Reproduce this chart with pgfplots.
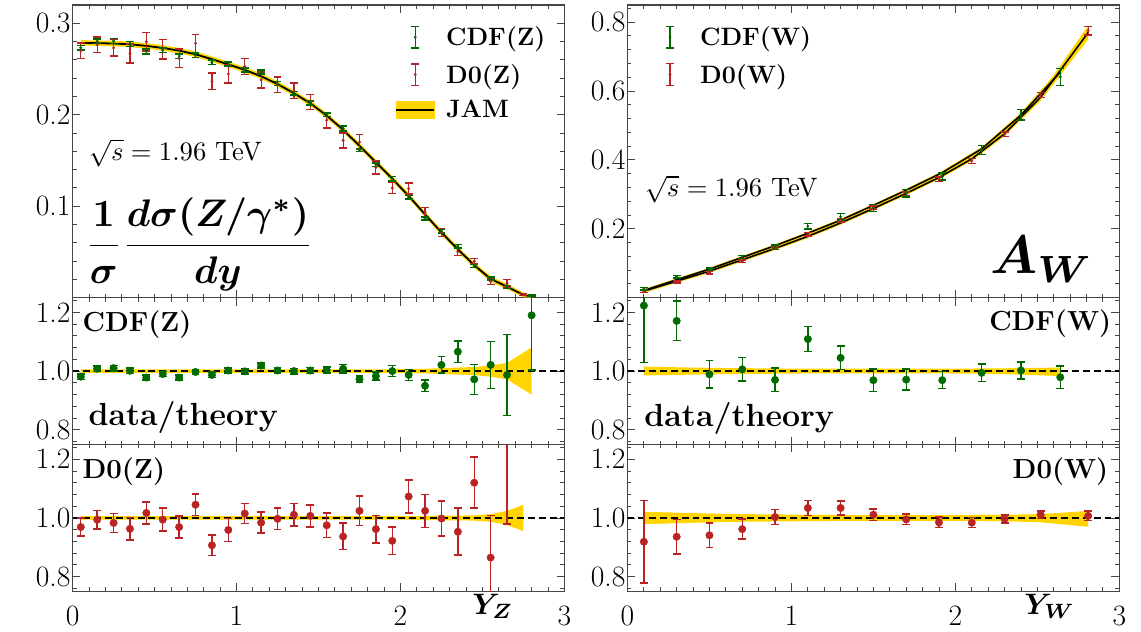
\documentclass[border=0pt]{standalone}
\usepackage{pgfplots}
\usepackage{pgfplotstable}
\pgfplotsset{compat=1.18}
\usepgfplotslibrary{fillbetween}

\definecolor{cdfgreen}{RGB}{0,105,0}
\definecolor{dzred}{RGB}{185,35,35}
\definecolor{jamgold}{RGB}{255,212,0}
\definecolor{framegray}{RGB}{70,70,70}

% ---------------- Z rapidity: JAM theory (central, band) ----------------
\pgfplotstableread{
x t lo hi
0.05 0.2785 0.2755 0.2815
0.15 0.2782 0.2752 0.2812
0.25 0.2778 0.2748 0.2808
0.35 0.2770 0.2740 0.2800
0.45 0.2752 0.2722 0.2782
0.55 0.2730 0.2700 0.2760
0.65 0.2700 0.2670 0.2730
0.75 0.2660 0.2630 0.2690
0.85 0.2607 0.2577 0.2637
0.95 0.2550 0.2520 0.2580
1.05 0.2490 0.2460 0.2520
1.15 0.2420 0.2390 0.2450
1.25 0.2335 0.2305 0.2365
1.35 0.2235 0.2205 0.2265
1.45 0.2125 0.2095 0.2155
1.55 0.1990 0.1960 0.2020
1.65 0.1835 0.1805 0.1865
1.75 0.1660 0.1630 0.1690
1.85 0.1480 0.1450 0.1510
1.95 0.1300 0.1270 0.1330
2.05 0.1112 0.1082 0.1142
2.15 0.0910 0.0880 0.0940
2.25 0.0712 0.0682 0.0742
2.35 0.0528 0.0498 0.0558
2.45 0.0355 0.0325 0.0385
2.55 0.0205 0.0175 0.0235
2.65 0.0120 0.0090 0.0150
2.75 0.0030 0.0005 0.0055
2.80 0.0012 0.0000 0.0030
}\zjam

% CDF(Z): normalised cross section
\pgfplotstableread{
x y e
0.05 0.2732 0.0025
0.15 0.2804 0.0025
0.25 0.2806 0.0025
0.35 0.2773 0.0025
0.45 0.2691 0.0025
0.55 0.2703 0.0025
0.65 0.2641 0.0024
0.75 0.2652 0.0024
0.85 0.2573 0.0024
0.95 0.2555 0.0023
1.05 0.2488 0.0023
1.15 0.2466 0.0022
1.25 0.2340 0.0022
1.35 0.2235 0.0021
1.45 0.2129 0.0021
1.55 0.1998 0.0020
1.65 0.1850 0.0026
1.75 0.1614 0.0018
1.85 0.1455 0.0019
1.95 0.1300 0.0025
2.05 0.1098 0.0021
2.15 0.0865 0.0018
2.25 0.0727 0.0020
2.35 0.0563 0.0020
2.45 0.0345 0.0018
2.55 0.0209 0.0016
2.65 0.0118 0.0016
2.80 0.0022 0.0006
}\zcdf

% D0(Z): normalised cross section
\pgfplotstableread{
x y e
0.05 0.2699 0.0086
0.15 0.2765 0.0086
0.25 0.2731 0.0089
0.35 0.2668 0.0105
0.45 0.2799 0.0102
0.55 0.2714 0.0106
0.65 0.2616 0.0100
0.75 0.2780 0.0098
0.85 0.2365 0.0091
0.95 0.2445 0.0099
1.05 0.2527 0.0085
1.15 0.2381 0.0087
1.25 0.2328 0.0086
1.35 0.2260 0.0085
1.45 0.2140 0.0081
1.55 0.1940 0.0084
1.65 0.1719 0.0083
1.75 0.1700 0.0083
1.85 0.1424 0.0070
1.95 0.1199 0.0061
2.05 0.1193 0.0062
2.15 0.0932 0.0051
2.25 0.0711 0.0042
2.35 0.0503 0.0042
2.45 0.0398 0.0031
2.55 0.0176 0.0030
2.65 0.0158 0.0040
2.75 0.0035 0.0012
}\zdzero

% data/theory, CDF(Z)
\pgfplotstableread{
x r e
0.05 0.981 0.009
0.15 1.008 0.009
0.25 1.010 0.009
0.35 1.001 0.009
0.45 0.978 0.009
0.55 0.990 0.009
0.65 0.978 0.009
0.75 0.997 0.009
0.85 0.987 0.009
0.95 1.002 0.009
1.05 0.999 0.009
1.15 1.019 0.009
1.25 1.002 0.009
1.35 1.000 0.009
1.45 1.002 0.010
1.55 1.004 0.010
1.65 1.008 0.014
1.75 0.972 0.011
1.85 0.983 0.013
1.95 1.000 0.019
2.05 0.987 0.019
2.15 0.950 0.020
2.25 1.021 0.028
2.35 1.066 0.037
2.45 0.972 0.051
2.55 1.021 0.080
2.65 0.987 0.138
2.80 1.190 0.186
}\zcdfr

\pgfplotstableread{
x lo hi
0.05 0.994 1.006
0.55 0.994 1.006
1.05 0.994 1.006
1.55 0.994 1.006
1.95 0.994 1.006
2.05 0.993 1.007
2.15 0.992 1.008
2.25 0.990 1.010
2.35 0.988 1.012
2.45 0.986 1.014
2.55 0.981 1.019
2.65 0.972 1.028
2.80 0.920 1.080
}\zcdfband

% data/theory, D0(Z)
\pgfplotstableread{
x r e
0.05 0.969 0.031
0.15 0.994 0.031
0.25 0.983 0.032
0.35 0.963 0.038
0.45 1.017 0.037
0.55 0.994 0.039
0.65 0.969 0.037
0.75 1.045 0.037
0.85 0.907 0.035
0.95 0.959 0.039
1.05 1.015 0.034
1.15 0.984 0.036
1.25 0.997 0.037
1.35 1.011 0.038
1.45 1.007 0.038
1.55 0.975 0.042
1.65 0.937 0.045
1.75 1.024 0.050
1.85 0.962 0.047
1.95 0.922 0.047
2.05 1.073 0.056
2.15 1.024 0.056
2.25 0.998 0.059
2.35 0.953 0.080
2.45 1.120 0.087
2.55 0.865 0.143
2.65 1.320 0.340
}\zdzeror

\pgfplotstableread{
x lo hi
0.05 0.994 1.006
0.55 0.994 1.006
1.05 0.994 1.006
1.55 0.994 1.006
2.05 0.994 1.006
2.15 0.993 1.007
2.25 0.992 1.008
2.35 0.992 1.008
2.45 0.991 1.009
2.55 0.987 1.013
2.65 0.976 1.024
2.75 0.955 1.045
}\zdzeroband

% ---------------- W asymmetry ----------------
\pgfplotstableread{
x t lo hi
0.10 0.021 0.017 0.025
0.30 0.052 0.048 0.056
0.50 0.083 0.079 0.087
0.70 0.117 0.113 0.121
0.90 0.151 0.147 0.155
1.10 0.187 0.183 0.191
1.30 0.225 0.221 0.229
1.50 0.268 0.264 0.272
1.70 0.312 0.308 0.316
1.92 0.363 0.358 0.368
2.16 0.432 0.427 0.437
2.40 0.530 0.523 0.537
2.64 0.655 0.643 0.667
}\wjamcdf

\pgfplotstableread{
x t lo hi
0.10 0.019 0.014 0.024
0.30 0.048 0.043 0.053
0.50 0.077 0.072 0.082
0.70 0.110 0.105 0.115
0.90 0.143 0.138 0.148
1.10 0.178 0.173 0.183
1.30 0.217 0.212 0.222
1.50 0.259 0.254 0.264
1.70 0.303 0.298 0.308
1.90 0.349 0.344 0.354
2.10 0.403 0.397 0.409
2.30 0.476 0.469 0.483
2.52 0.582 0.572 0.592
2.81 0.770 0.750 0.790
}\wjamdzero

\pgfplotstableread{
x y e
0.10 0.0257 0.0041
0.30 0.0609 0.0035
0.50 0.0821 0.0039
0.70 0.1177 0.0047
0.90 0.1465 0.0060
1.10 0.2074 0.0080
1.30 0.2351 0.0090
1.50 0.2597 0.0102
1.70 0.3030 0.0112
1.92 0.3517 0.0105
2.16 0.4294 0.0130
2.40 0.5311 0.0154
2.64 0.6412 0.0249
}\wcdf

\pgfplotstableread{
x y e
0.10 0.0175 0.0027
0.30 0.0449 0.0028
0.50 0.0725 0.0032
0.70 0.1058 0.0037
0.90 0.1434 0.0037
1.10 0.1841 0.0045
1.30 0.2244 0.0052
1.50 0.2618 0.0049
1.70 0.3015 0.0055
1.90 0.3438 0.0063
2.10 0.3966 0.0069
2.30 0.4746 0.0067
2.52 0.5884 0.0076
2.81 0.7754 0.0123
}\wdzero

\pgfplotstableread{
x r e
0.10 1.223 0.194
0.30 1.171 0.067
0.50 0.989 0.047
0.70 1.006 0.040
0.90 0.970 0.040
1.10 1.109 0.043
1.30 1.045 0.040
1.50 0.969 0.038
1.70 0.971 0.036
1.92 0.969 0.029
2.16 0.994 0.030
2.40 1.002 0.029
2.64 0.979 0.038
}\wcdfr

\pgfplotstableread{
x lo hi
0.10 0.985 1.015
0.30 0.987 1.013
0.50 0.989 1.011
0.70 0.990 1.010
0.90 0.991 1.009
1.10 0.992 1.008
1.30 0.992 1.008
1.50 0.992 1.008
1.70 0.992 1.008
1.92 0.992 1.008
2.16 0.991 1.009
2.40 0.988 1.010
2.64 0.983 1.012
}\wcdfband

\pgfplotstableread{
x r e
0.10 0.919 0.140
0.30 0.936 0.058
0.50 0.941 0.042
0.70 0.962 0.034
0.90 1.003 0.026
1.10 1.034 0.025
1.30 1.034 0.024
1.50 1.011 0.019
1.70 0.995 0.018
1.90 0.985 0.018
2.10 0.984 0.017
2.30 0.997 0.014
2.52 1.011 0.013
2.81 1.007 0.016
}\wdzeror

\pgfplotstableread{
x lo hi
0.10 0.979 1.021
0.30 0.982 1.018
0.50 0.985 1.015
0.70 0.987 1.013
0.90 0.988 1.012
1.10 0.989 1.011
1.30 0.990 1.010
1.50 0.990 1.010
1.70 0.990 1.010
1.90 0.990 1.010
2.10 0.990 1.010
2.30 0.989 1.011
2.52 0.985 1.013
2.81 0.970 1.024
}\wdzeroband

\newcommand{\tickfont}{\fontsize{30}{30}\selectfont}

\pgfplotsset{
  panel/.style={
    scale only axis, width=499pt,
    xmin=0, xmax=3,
    xtick={0,1,2,3},
    minor xtick={0,0.1,...,3},
    tick align=inside,
    major tick length=8pt, minor tick length=4pt,
    every tick/.style={framegray, line width=0.9pt},
    axis line style={framegray, line width=1.4pt},
    tick label style={font=\tickfont},
    yticklabel style={inner sep=0pt, xshift=-2pt},
    xticklabel style={inner sep=0pt, yshift=-15pt},
    xticklabels={},
  },
  ratio/.style={
    panel, height=149pt,
    ymin=0.75, ymax=1.25,
    ytick={0.8,1.0,1.2}, yticklabels={0.8,1.0,1.2},
    minor ytick={0.76,0.80,...,1.24},
  },
  bottomx/.style={xticklabels={0,1,2,3}},
  mainerr/.style={only marks, mark=*, mark size=1.3pt, #1,
    error bars/.cd, y dir=both, y explicit,
    error bar style={line width=1.2pt, #1},
    error mark options={rotate=90, mark size=4pt, line width=1.5pt, #1}},
  ratioerr/.style={only marks, mark=*, mark size=3.8pt, #1,
    error bars/.cd, y dir=both, y explicit,
    error bar style={line width=1.4pt, #1},
    error mark options={rotate=90, mark size=4pt, line width=1.6pt, #1}},
  unity/.style={black, line width=1.4pt, dash pattern=on 7pt off 4pt, forget plot},
  cdfleg/.style={legend image code/.code={
      \path[draw=none, fill=none] (0pt,-12pt) rectangle (39pt,12pt);
      \draw[cdfgreen, line width=1.3pt] (19.5pt,-11pt) -- (19.5pt,11pt);
      \draw[cdfgreen, line width=1.5pt] (15.5pt,-11pt) -- (23.5pt,-11pt);
      \draw[cdfgreen, line width=1.5pt] (15.5pt,11pt) -- (23.5pt,11pt);
      \fill[cdfgreen] (19.5pt,0pt) circle (1.3pt);}},
  dzeroleg/.style={legend image code/.code={
      \path[draw=none, fill=none] (0pt,-12pt) rectangle (39pt,12pt);
      \draw[dzred, line width=1.3pt] (19.5pt,-11pt) -- (19.5pt,11pt);
      \draw[dzred, line width=1.5pt] (15.5pt,-11pt) -- (23.5pt,-11pt);
      \draw[dzred, line width=1.5pt] (15.5pt,11pt) -- (23.5pt,11pt);
      \fill[dzred] (19.5pt,0pt) circle (1.3pt);}},
  jamleg/.style={legend image code/.code={
      \fill[jamgold] (0pt,-9pt) rectangle (39pt,9pt);
      \draw[black, line width=1.8pt] (0pt,0pt) -- (39pt,0pt);}},
  legstyle/.style={legend style={draw=none, fill=none, inner sep=0pt,
      font=\fontsize{25.5}{25.5}\selectfont\bfseries,
      row sep=14pt,
      nodes={inner sep=0pt},
      /tikz/every odd column/.append style={column sep=11pt},
      cells={anchor=west}}},
}

% bold formula labels, set once and placed as boxes
\newsavebox{\zlabelbox}
\newsavebox{\awlabelbox}
\newsavebox{\yzlabelbox}
\newsavebox{\ywlabelbox}
\newsavebox{\rootsbox}

\begin{document}
\sbox{\zlabelbox}{\boldmath$\displaystyle\frac{1}{\sigma}\frac{d\sigma(Z/\gamma^{\ast})}{dy}$\unboldmath}
\sbox{\awlabelbox}{\boldmath$A_W$\unboldmath}
\sbox{\yzlabelbox}{\boldmath$Y_Z$\unboldmath}
\sbox{\ywlabelbox}{\boldmath$Y_W$\unboldmath}
\sbox{\rootsbox}{$\sqrt{s}=1.96$ TeV}
\begin{tikzpicture}

% ===================== Z: normalised rapidity distribution =====================
\begin{axis}[panel, name=zmain, at={(57pt,339pt)}, anchor=south west, height=297pt,
  ymin=0, ymax=0.32,
  ytick={0,0.1,0.2,0.3}, yticklabels={,0.1,0.2,0.3},
  minor ytick={0.02,0.04,...,0.32},
  legstyle, legend style={at={(0.6553,0.931)}, anchor=north west}]
  \addlegendimage{cdfleg}\addlegendentry{CDF(Z)}
  \addlegendimage{dzeroleg}\addlegendentry{D0(Z)}
  \addlegendimage{jamleg}\addlegendentry{JAM}
  \addplot[name path=zh, draw=none, forget plot] table[x=x,y=hi]{\zjam};
  \addplot[name path=zl, draw=none, forget plot] table[x=x,y=lo]{\zjam};
  \addplot[jamgold, forget plot] fill between[of=zh and zl];
  \addplot[black, line width=1.8pt, forget plot] table[x=x,y=t]{\zjam};
  \addplot[forget plot, mainerr=dzred] table[x=x,y=y,y error=e]{\zdzero};
  \addplot[forget plot, mainerr=cdfgreen] table[x=x,y=y,y error=e]{\zcdf};
\end{axis}

\begin{axis}[ratio, name=zcdfratio, at={(57pt,190pt)}, anchor=south west]
  \addplot[name path=bh, draw=none, forget plot] table[x=x,y=hi]{\zcdfband};
  \addplot[name path=bl, draw=none, forget plot] table[x=x,y=lo]{\zcdfband};
  \addplot[jamgold, forget plot] fill between[of=bh and bl];
  \addplot[unity] coordinates {(0,1) (3,1)};
  \addplot[forget plot, ratioerr=cdfgreen] table[x=x,y=r,y error=e]{\zcdfr};
\end{axis}

\begin{axis}[ratio, bottomx, name=zdzeroratio, at={(57pt,41pt)}, anchor=south west]
  \addplot[name path=bh, draw=none, forget plot] table[x=x,y=hi]{\zdzeroband};
  \addplot[name path=bl, draw=none, forget plot] table[x=x,y=lo]{\zdzeroband};
  \addplot[jamgold, forget plot] fill between[of=bh and bl];
  \addplot[unity] coordinates {(0,1) (3,1)};
  \addplot[forget plot, ratioerr=dzred] table[x=x,y=r,y error=e]{\zdzeror};
\end{axis}

% ===================== W charge asymmetry =====================
\begin{axis}[panel, name=wmain, at={(620pt,339pt)}, anchor=south west, height=297pt,
  ymin=0, ymax=0.85,
  ytick={0,0.2,0.4,0.6,0.8}, yticklabels={,0.2,0.4,0.6,0.8},
  minor ytick={0.04,0.08,...,0.84},
  legstyle, legend style={at={(0.047,0.931)}, anchor=north west}]
  \addlegendimage{cdfleg}\addlegendentry{CDF(W)}
  \addlegendimage{dzeroleg}\addlegendentry{D0(W)}
  \addplot[name path=dh, draw=none, forget plot] table[x=x,y=hi]{\wjamdzero};
  \addplot[name path=dl, draw=none, forget plot] table[x=x,y=lo]{\wjamdzero};
  \addplot[jamgold, forget plot] fill between[of=dh and dl];
  \addplot[name path=ch, draw=none, forget plot] table[x=x,y=hi]{\wjamcdf};
  \addplot[name path=cl, draw=none, forget plot] table[x=x,y=lo]{\wjamcdf};
  \addplot[jamgold, forget plot] fill between[of=ch and cl];
  \addplot[black, line width=1.6pt, forget plot] table[x=x,y=t]{\wjamdzero};
  \addplot[black, line width=1.6pt, forget plot] table[x=x,y=t]{\wjamcdf};
  \addplot[forget plot, mainerr=dzred] table[x=x,y=y,y error=e]{\wdzero};
  \addplot[forget plot, mainerr=cdfgreen] table[x=x,y=y,y error=e]{\wcdf};
\end{axis}

\begin{axis}[ratio, name=wcdfratio, at={(620pt,190pt)}, anchor=south west]
  \addplot[name path=bh, draw=none, forget plot] table[x=x,y=hi]{\wcdfband};
  \addplot[name path=bl, draw=none, forget plot] table[x=x,y=lo]{\wcdfband};
  \addplot[jamgold, forget plot] fill between[of=bh and bl];
  \addplot[unity] coordinates {(0,1) (3,1)};
  \addplot[forget plot, ratioerr=cdfgreen] table[x=x,y=r,y error=e]{\wcdfr};
\end{axis}

\begin{axis}[ratio, bottomx, name=wdzeroratio, at={(620pt,41pt)}, anchor=south west]
  \addplot[name path=bh, draw=none, forget plot] table[x=x,y=hi]{\wdzeroband};
  \addplot[name path=bl, draw=none, forget plot] table[x=x,y=lo]{\wdzeroband};
  \addplot[jamgold, forget plot] fill between[of=bh and bl];
  \addplot[unity] coordinates {(0,1) (3,1)};
  \addplot[forget plot, ratioerr=dzred] table[x=x,y=r,y error=e]{\wdzeror};
\end{axis}

% ---------------- annotations, placed from the panel corners ----------------
\path (zmain.south west) ++(16pt,147pt) node[anchor=west, inner sep=0pt, scale=2.7] {\usebox{\rootsbox}};
\path (wmain.south west) ++(17pt,110pt) node[anchor=west, inner sep=0pt, scale=2.7] {\usebox{\rootsbox}};
\path (zmain.south west) ++(12pt,54pt) node[anchor=west, inner sep=0pt, scale=3.9] {\usebox{\zlabelbox}};
\path (wmain.south west) ++(367pt,24pt) node[anchor=base west, inner sep=0pt, scale=5.5] {\usebox{\awlabelbox}};

\path (zcdfratio.south west) ++(16pt,19pt) node[anchor=base west, inner sep=0pt, font=\fontsize{32.5}{32.5}\selectfont\bfseries] {data/theory};
\path (wcdfratio.south west) ++(17pt,18pt) node[anchor=base west, inner sep=0pt, font=\fontsize{32.5}{32.5}\selectfont\bfseries] {data/theory};
\path (zcdfratio.south west) ++(10pt,115pt) node[anchor=base west, inner sep=0pt, font=\fontsize{28}{28}\selectfont\bfseries] {CDF(Z)};
\path (zdzeroratio.south west) ++(10pt,115pt) node[anchor=base west, inner sep=0pt, font=\fontsize{28}{28}\selectfont\bfseries] {D0(Z)};
\path (wcdfratio.south east) ++(-8pt,116pt) node[anchor=base east, inner sep=0pt, font=\fontsize{28}{28}\selectfont\bfseries] {CDF(W)};
\path (wdzeroratio.south east) ++(-11pt,115pt) node[anchor=base east, inner sep=0pt, font=\fontsize{28}{28}\selectfont\bfseries] {D0(W)};

\path (zdzeroratio.south west) ++(405pt,-23pt) node[anchor=base west, inner sep=0pt, scale=3.0] {\usebox{\yzlabelbox}};
\path (wdzeroratio.south west) ++(402pt,-23pt) node[anchor=base west, inner sep=0pt, scale=3.0] {\usebox{\ywlabelbox}};

\pgfresetboundingbox
\path[use as bounding box] (0pt,0pt) rectangle (1141pt,641pt);
\end{tikzpicture}
\end{document}
